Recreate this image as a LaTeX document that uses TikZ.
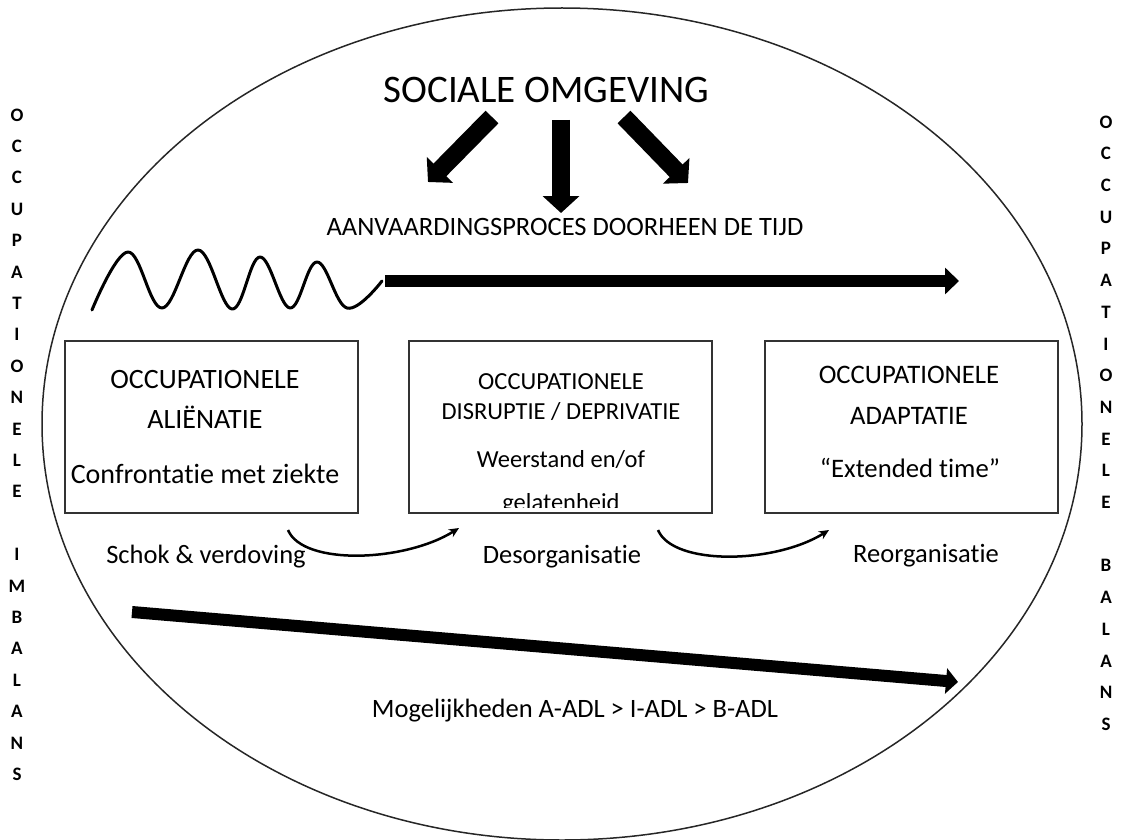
\documentclass[tikz,border=0pt]{standalone}
\usepackage{fontspec}
\setmainfont{Carlito}[Ligatures=NoCommon]
\usetikzlibrary{arrows.meta}
\begin{document}
\begin{tikzpicture}[x=1pt,y=-1pt,
  txt/.style={inner sep=0pt, anchor=base, font=\fontsize{26.5}{30}\selectfont},
  box/.style={draw=black!80, line width=1.5pt, inner sep=0pt},
  side/.style={inner sep=0pt, font=\fontsize{19}{21}\selectfont\bfseries},
  block/.style={line width=18pt, -{Triangle[length=17pt,width=36pt]}},
  bar/.style={line width=12pt, -{Triangle[length=14pt,width=26pt]}},
  bendarrow/.style={line width=2.5pt, -{Stealth[length=10pt,width=9pt]}},
  rim/.style={draw=black!85, line width=1.5pt}
]
\useasboundingbox (0,0) rectangle (1122,840);
\draw[rim] (562,424) ellipse [x radius=520, y radius=416];

% title and arrows
\node[txt, font=\fontsize{39}{42}\selectfont] (soc) at (546.5,103) {SOCIALE OMGEVING};
\node[txt] (aanv) at (565,235) {AANVAARDINGSPROCES DOORHEEN DE TIJD};
\coordinate (a1s) at (492,117); \coordinate (a1e) at (428,182);
\coordinate (a2s) at (561,120); \coordinate (a2e) at (561,213);
\coordinate (a3s) at (624,117); \coordinate (a3e) at (688,183);
\draw[block] (a1s) -- (a1e);
\draw[block] (a2s) -- (a2e);
\draw[block] (a3s) -- (a3e);

% wave and time arrow
\draw[line width=3pt, line cap=round, line join=round] plot[smooth, tension=0.65] coordinates {
  (92,310) (128,252) (162,308) (198,250) (232,309) (260,257) (290,308) (317,262) (347,308) (382,281)};
\coordinate (h1) at (385,281); \coordinate (h2) at (959,281);
\draw[bar] (h1) -- (h2);

% boxes
\node[box, minimum width=293pt, minimum height=172pt] (b1) at (211.5,427) {};
\node[box, minimum width=303pt, minimum height=172pt] (b2) at (560.5,427) {};
\node[box, minimum width=293pt, minimum height=172pt] (b3) at (911.5,427) {};

\node[txt, font=\fontsize{28}{30}\selectfont] (b1a) at (205,388) {OCCUPATIONELE};
\node[txt, font=\fontsize{28}{30}\selectfont] (b1b) at (205,428) {ALIËNATIE};
\node[txt, font=\fontsize{28}{30}\selectfont] (b1c) at (205,483) {Confrontatie met ziekte};

\node[txt, font=\fontsize{24.5}{28}\selectfont] (b2a) at (561,389) {OCCUPATIONELE};
\node[txt, font=\fontsize{24.5}{28}\selectfont] (b2b) at (561,419) {DISRUPTIE / DEPRIVATIE};
\node[txt, font=\fontsize{24.5}{28}\selectfont] (b2c) at (561,467) {Weerstand en/of};
\begin{scope}
\clip (409,341) rectangle (712,507);
\node[txt, font=\fontsize{24.5}{28}\selectfont] (b2d) at (561,510) {gelatenheid};
\end{scope}

\node[txt, font=\fontsize{26.7}{30}\selectfont] (b3a) at (909,383) {OCCUPATIONELE};
\node[txt, font=\fontsize{26.7}{30}\selectfont] (b3b) at (909,424) {ADAPTATIE};
\node[txt, font=\fontsize{26.7}{30}\selectfont] (b3c) at (910,477) {“Extended time”};

% phases
\node[txt] (p1) at (206,563) {Schok \& verdoving};
\node[txt] (p2) at (562,563) {Desorganisatie};
\node[txt] (p3) at (926,562) {Reorganisatie};
\coordinate (c1s) at (288,530); \coordinate (c1e) at (459,528);
\coordinate (c2s) at (658,530); \coordinate (c2e) at (829,530);
\draw[bendarrow] (c1s) .. controls (303,566) and (405,562) .. (c1e);
\draw[bendarrow] (c2s) .. controls (673,566) and (775,564) .. (c2e);

% lower arrow
\coordinate (m1) at (132,612); \coordinate (m2) at (958,682);
\draw[line width=12pt, -{Triangle[length=12pt,width=25pt]}] (m1) -- (m2);
\node[txt] (mog) at (575,717) {Mogelijkheden A-ADL > I-ADL > B-ADL};

% side letters
\foreach \l/\k in {O/0,C/1,C/2,U/3,P/4,A/5,T/6,I/7,O/8,N/9,E/10,L/11,E/12,I/14,M/15,B/16,A/17,L/18,A/19,N/20,S/21}
  \node[side] (l\k) at (17,115+31.4*\k) {\l};
\foreach \l/\k in {O/0,C/1,C/2,U/3,P/4,A/5,T/6,I/7,O/8,N/9,E/10,L/11,E/12,B/14,A/15,L/16,A/17,N/18,S/19}
  \node[side] (r\k) at (1106,122+31.7*\k) {\l};
\end{tikzpicture}
\end{document}
